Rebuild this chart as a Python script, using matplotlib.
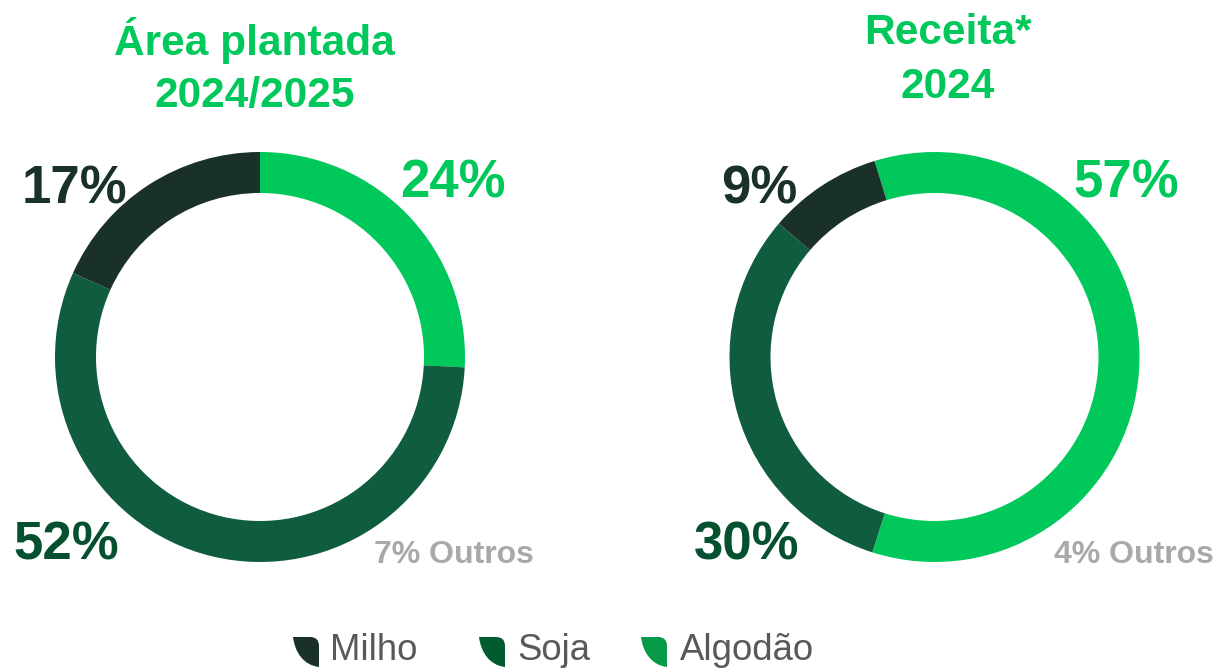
import matplotlib
matplotlib.use('Agg')
import matplotlib.pyplot as plt
from matplotlib.patches import PathPatch
from matplotlib.path import Path

plt.rcParams['font.family'] = ['Liberation Sans', 'DejaVu Sans']

W, H = 1216, 670

# the rings leave "Outros" out, so shares are of the three crops only
crops = ['Algodão', 'Soja', 'Milho']
area_values = [24, 52, 17]
receita_values = [57, 30, 9]
# printed 9% is rounded, the arc itself measures a bit less
receita_arcs = [57, 30, 8.6]
area_outros = 7
receita_outros = 4

ring_colors = ['#00c85a', '#105c3f', '#1a312a']
label_colors = ['#00c85a', '#05512f', '#1a312a']
leaf_colors = ['#1a312a', '#005c2e', '#069a48']
legend_names = ['Milho', 'Soja', 'Algodão']

fig = plt.figure(figsize=(W / 100, H / 100), dpi=100, facecolor='white')

# overlay axes in pixel coords, y going down like the picture
over = fig.add_axes([0, 0, 1, 1], zorder=5)
over.set_xlim(0, W)
over.set_ylim(H, 0)
over.axis('off')


def ring(cx, cy, values, start):
    r_out = 205
    ax = fig.add_axes([(cx - r_out) / W, 1 - (cy + r_out) / H, 2 * r_out / W, 2 * r_out / H])
    ax.pie(values, colors=ring_colors, startangle=start, counterclock=False, radius=1.0,
           wedgeprops={'width': 41 / r_out, 'linewidth': 0})
    ax.set_xlim(-1, 1)
    ax.set_ylim(-1, 1)


ring(260, 357, area_values, 90)
ring(934.5, 357, receita_arcs, 107)


def big(x, y, value, color):
    over.text(x, y, f'{value}%', color=color, fontsize=38, fontweight='bold', ha='center', va='center')


def title(x, y1, y2, line1, line2):
    over.text(x, y1, line1, color='#00c85a', fontsize=30.5, fontweight='bold', ha='center', va='center')
    over.text(x, y2, line2, color='#00c85a', fontsize=30.5, fontweight='bold', ha='center', va='center')


title(254.5, 41, 96, 'Área plantada', '2024/2025')
title(948, 33, 87, 'Receita*', '2024')

big(453, 183, area_values[0], label_colors[0])
big(74, 190, area_values[2], label_colors[2])
big(66, 546, area_values[1], label_colors[1])
big(1126, 183, receita_values[0], label_colors[0])
big(747, 546, receita_values[1], label_colors[1])
big(759, 190, receita_values[2], label_colors[2])

over.text(454, 555, f'{area_outros}% Outros', color='#a9a9a9', fontsize=23, fontweight='bold', ha='center', va='center')
over.text(1134, 555, f'{receita_outros}% Outros', color='#a9a9a9', fontsize=23, fontweight='bold', ha='center', va='center')


def leaf(x, color):
    # x = left edge of the icon
    verts = [(x, 637), (x + 17, 637), (x + 26, 637), (x + 26, 646), (x + 26, 667), (x + 10, 665), (x + 2, 652), (x, 637)]
    codes = [Path.MOVETO, Path.LINETO, Path.CURVE3, Path.CURVE3, Path.LINETO, Path.CURVE4, Path.CURVE4, Path.CURVE4]
    over.add_patch(PathPatch(Path(verts, codes), facecolor=color, edgecolor='none'))


leaf_x = [293, 479, 641]
text_x = [330, 517, 680]
for lx, tx, name, col in zip(leaf_x, text_x, legend_names, leaf_colors):
    leaf(lx, col)
    over.text(tx, 651, name, color='#595959', fontsize=26.3, ha='left', va='center')

fig.savefig('out.png', dpi=100, facecolor='white')
